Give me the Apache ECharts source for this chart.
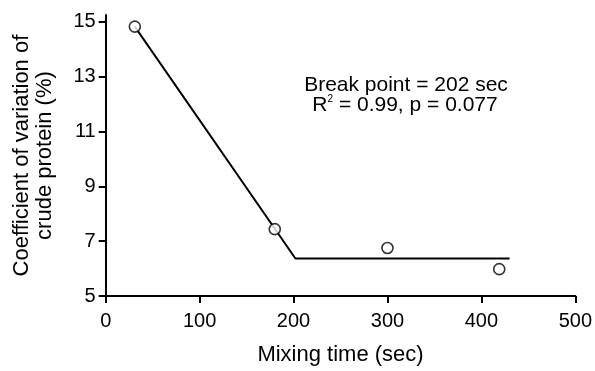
<!DOCTYPE html>
<html><head><meta charset="utf-8">
<script src="https://cdn.jsdelivr.net/npm/echarts@6/dist/echarts.min.js"></script>
<style>html,body{margin:0;padding:0;background:#fff}#c{width:595px;height:371px}</style>
</head><body><div id="c"></div>
<script>
var obsX = [31, 180, 300, 419];
var obsY = [14.83, 7.44, 6.75, 5.98];
var fitX = [31, 202, 430];
var fitY = [14.83, 6.37, 6.37];
var xTicks = [0, 100, 200, 300, 400, 500];
var yTicks = [5, 7, 9, 11, 13, 15];
var note1 = 'Break point = 202 sec';
var note2 = ['R', '2', ' = 0.99, p = 0.077'];

var F = 'Liberation Sans, Arial, sans-serif';
var chart = echarts.init(document.getElementById('c'));
chart.setOption({
  animation: false,
  grid: {left: 105.7, right: 18, top: 15.1, bottom: 74.5},
  xAxis: {
    type: 'value', min: 0, max: 500, interval: 100,
    name: 'Mixing time (sec)', nameLocation: 'middle', nameGap: 48,
    nameTextStyle: {fontFamily: F, fontSize: 22, color: '#000'},
    axisLine: {lineStyle: {color: '#000', width: 2}},
    axisTick: {show: true, length: 7, lineStyle: {color: '#000', width: 2}, customValues: xTicks},
    axisLabel: {fontFamily: F, fontSize: 20, color: '#000', margin: 15, customValues: xTicks},
    splitLine: {show: false}
  },
  yAxis: {
    type: 'value', min: 5, max: 15.25,
    name: 'Coefficient of variation of\ncrude protein (%)', nameLocation: 'middle', nameGap: 49,
    nameRotate: 90,
    nameTextStyle: {fontFamily: F, fontSize: 22, color: '#000', lineHeight: 23, align: 'center'},
    axisLine: {onZero: false, lineStyle: {color: '#000', width: 2}},
    axisTick: {show: true, length: 7, lineStyle: {color: '#000', width: 2}, customValues: yTicks},
    axisLabel: {fontFamily: F, fontSize: 20, color: '#000', margin: 10, customValues: yTicks},
    splitLine: {show: false}
  },
  series: [
    {type: 'line', data: fitX.map(function(x, i){return [x, fitY[i]];}), symbol: 'none',
     lineStyle: {color: '#000', width: 2}, z: 2},
    {type: 'scatter', data: obsX.map(function(x, i){return [x, obsY[i]];}), symbol: 'circle', symbolSize: 11,
     itemStyle: {color: '#fff', borderColor: '#000', borderWidth: 1.6}, z: 3}
  ],
  graphic: [
    {type: 'text', x: 406, y: 85, style: {text: note1, font: '21px ' + F, fill: '#000', align: 'center', verticalAlign: 'middle'}},
    {type: 'text', x: 405, y: 105, style: {
      text: '{a|' + note2[0] + '}{s|' + note2[1] + '}{a|' + note2[2] + '}',
      align: 'center', verticalAlign: 'middle',
      rich: {a: {fontFamily: F, fontSize: 21, color: '#000', verticalAlign: 'middle'},
             s: {fontFamily: F, fontSize: 10, color: '#000', verticalAlign: 'top', padding: [0, 0, 10, 0]}}
    }}
  ]
});
</script></body></html>
